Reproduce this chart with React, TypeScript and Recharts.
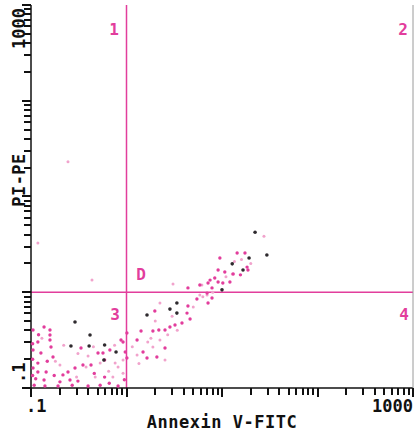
import React from 'react';
import { ScatterChart, Scatter, XAxis, YAxis, ReferenceLine } from 'recharts';

const MAGENTA = '#e23d9c';
const FAINT = '#f1a3cc';
const DARK = '#2e2a2e';
const FONT = '"DejaVu Sans Mono", "Liberation Mono", monospace';

const xTicks = [0.1, 0.2, 0.3, 0.4, 0.5, 0.6, 0.7, 0.8, 0.9, 1, 2, 3, 4, 5, 6, 7, 8, 9, 10, 20, 30, 40, 50, 60, 70, 80, 90, 100, 200, 300, 400, 500, 600, 700, 800, 900, 1000];
const yTicks = [0.1, 0.2, 0.3, 0.4, 0.5, 0.6, 0.7, 0.8, 0.9, 1, 2, 3, 4, 5, 6, 7, 8, 9, 10, 20, 30, 40, 50, 60, 70, 80, 90, 100, 200, 300, 400, 500, 600, 700, 800, 900, 1000];
const majorTicks = [0.1, 1, 10, 100, 1000];
const tickLabels: Record<string, string> = { '0.1': '.1', '1000': '1000' };
const AXIS_MIN = 0.1;

const pinkPoints: [number, number][] = [
  [0.137, 0.434], [0.158, 0.403], [0.158, 0.358], [0.158, 0.317], [0.118, 0.302], [0.162, 0.268],
  [0.127, 0.232], [0.17, 0.211], [0.118, 0.182], [0.144, 0.147], [0.118, 0.147], [0.137, 0.121],
  [0.201, 0.116], [0.216, 0.137], [0.244, 0.147], [0.334, 0.262], [0.35, 0.174], [0.425, 0.174],
  [0.503, 0.232], [0.567, 0.232], [0.59, 0.196], [0.67, 0.249], [0.876, 0.317], [0.59, 0.13],
  [0.105, 0.403], [0.105, 0.249], [0.105, 0.162], [0.108, 0.107], [0.14, 0.105], [0.192, 0.105],
  [0.27, 0.107], [0.396, 0.105], [0.53, 0.107], [0.816, 0.105], [0.289, 0.162], [0.256, 0.121],
  [1.01, 0.376], [0.92, 0.302], [1.29, 0.317], [1.42, 0.394], [1.89, 0.394], [2.18, 0.403],
  [2.53, 0.403], [2.53, 0.262], [2.85, 0.434], [3.22, 0.455], [3.81, 0.477], [4.3, 0.606],
  [4.63, 0.525], [4.4, 0.719], [1.98, 0.636], [1.49, 0.238], [0.97, 0.238], [1.01, 0.206],
  [2.08, 0.211], [1.64, 0.206], [4.4, 1.11], [5.46, 0.85], [5.86, 1.19], [7.14, 0.772],
  [7.14, 1.25], [7.86, 1.11], [7.86, 0.87], [6.98, 0.98], [7.5, 1.34], [8.4, 1.41],
  [9.1, 1.28], [10.2, 1.25], [12.1, 1.28], [9.1, 1.71], [10.7, 1.63], [9.5, 2.28],
  [13.1, 1.55], [15.6, 1.52], [14.4, 2.57], [17.4, 2.57], [18.3, 1.83], [18.7, 1.71],
  [0.12, 0.36], [0.148, 0.19], [0.112, 0.125], [0.175, 0.135], [0.31, 0.118], [0.46, 0.142],
  [0.66, 0.112], [0.95, 0.122], [0.104, 0.2], [0.104, 0.29], [0.104, 0.135],
];

const faintPoints: [number, number][] = [
  [0.31, 0.229], [0.377, 0.166], [0.53, 0.182], [0.76, 0.182], [0.816, 0.166], [0.92, 0.196],
  [0.72, 0.13], [0.47, 0.13], [0.92, 0.143], [0.396, 0.216], [0.201, 0.174], [1.67, 0.302],
  [1.89, 0.268], [2.24, 0.317], [2.53, 0.196], [1.29, 0.221], [2.24, 0.772], [3.07, 1.22],
  [5.86, 0.936], [6.16, 1.19], [6.98, 0.936], [12.8, 1.55], [0.435, 1.34], [0.118, 3.26],
  [0.244, 23], [27.5, 3.85], [0.13, 0.33], [0.22, 0.28], [0.18, 0.19], [0.3, 0.13],
  [0.45, 0.27], [0.65, 0.15], [0.75, 0.28], [1.15, 0.27], [1.35, 0.18], [1.8, 0.33],
  [2.0, 0.5], [2.7, 0.36], [3.4, 0.4], [3.0, 0.56], [5.0, 0.7], [6.3, 0.9],
  [8.0, 1.0], [11.0, 1.45], [13.5, 2.1], [16, 2.2], [20, 2.0],
];

const blackPoints: [number, number][] = [
  [0.289, 0.489], [0.415, 0.358], [0.262, 0.275], [0.406, 0.275], [0.59, 0.281], [0.777, 0.238],
  [0.58, 0.196], [3.37, 0.772], [3.37, 0.606], [2.85, 0.667], [1.64, 0.579], [22.2, 4.24],
  [29.5, 2.45], [19.2, 2.28], [12.8, 1.98], [16.6, 1.71], [10.0, 1.06],
];

const toObj = (arr: [number, number][]) => arr.map(([x, y]) => ({ x, y }));
const xTickData = xTicks.map((v) => ({ x: v, y: AXIS_MIN, v }));
const yTickData = yTicks.map((v) => ({ x: AXIS_MIN, y: v, v }));

const XTickShape = (p: any) => {
  const x = Math.round(Number(p.cx));
  const bottom = Math.round(Number(p.cy));
  const v = p.payload.v;
  const len = majorTicks.includes(v) ? 9 : 7;
  const label = tickLabels[String(v)];
  return (
    <g>
      <path d={`M${x},${bottom}V${bottom + len}`} stroke="#111" strokeWidth={2} fill="none" shapeRendering="crispEdges" />
      {label && (
        <text
          x={v === 0.1 ? x - 5 : x}
          y={bottom + 24}
          textAnchor={v === 0.1 ? 'start' : 'end'}
          fontFamily={FONT}
          fontWeight="bold"
          fontSize={17}
          fill="#111"
        >
          {label}
        </text>
      )}
    </g>
  );
};

const YTickShape = (p: any) => {
  const left = Math.round(Number(p.cx));
  const y = Math.round(Number(p.cy));
  const v = p.payload.v;
  const len = majorTicks.includes(v) ? 9 : 7;
  const label = tickLabels[String(v)];
  const lx = left - 6;
  const ly = v === 0.1 ? y - 5 : y + 3;
  return (
    <g>
      <path d={`M${left},${y}H${left - len}`} stroke="#111" strokeWidth={2} fill="none" shapeRendering="crispEdges" />
      {label && (
        <text
          x={lx}
          y={ly}
          textAnchor={v === 0.1 ? 'start' : 'end'}
          transform={`rotate(-90, ${lx}, ${ly})`}
          fontFamily={FONT}
          fontWeight="bold"
          fontSize={17}
          fill="#111"
        >
          {label}
        </text>
      )}
    </g>
  );
};

const dot = (color: string, r: number) => (p: any) => (
  <circle cx={p.cx} cy={p.cy} r={r} fill={color} />
);

const quadLabel = { fontFamily: FONT, fontWeight: 'bold' as const, fontSize: 16, fill: MAGENTA };

export default function App() {
  return (
    <div style={{ position: 'absolute', left: 0, top: 0, width: 415, height: 441, background: '#fff' }}>
      <ScatterChart width={415} height={441} margin={{ top: 5, right: 0, left: 0, bottom: 0 }}>
        <XAxis
          xAxisId={0}
          type="number"
          dataKey="x"
          scale="log"
          domain={[0.1, 1000]}
          height={53}
          tick={false}
          tickLine={false}
          axisLine={{ stroke: '#111', strokeWidth: 1.5 }}
        />
        <XAxis
          xAxisId="top"
          orientation="top"
          type="number"
          dataKey="x"
          scale="log"
          domain={[0.1, 1000]}
          height={0}
          tick={false}
          tickLine={false}
          axisLine={{ stroke: '#111', strokeWidth: 1.5 }}
        />
        <YAxis
          yAxisId={0}
          type="number"
          dataKey="y"
          scale="log"
          domain={[0.1, 1000]}
          width={31}
          tick={false}
          tickLine={false}
          axisLine={{ stroke: '#111', strokeWidth: 1.5 }}
        />
        <YAxis
          yAxisId="right"
          orientation="right"
          type="number"
          dataKey="y"
          scale="log"
          domain={[0.1, 1000]}
          width={2}
          tick={false}
          tickLine={false}
          axisLine={{ stroke: '#9a9a9a', strokeWidth: 1 }}
        />
        <ReferenceLine x={1} xAxisId={0} yAxisId={0} stroke={MAGENTA} strokeWidth={1.5} />
        <ReferenceLine y={1} xAxisId={0} yAxisId={0} stroke={MAGENTA} strokeWidth={1.5} />
        <Scatter data={xTickData} xAxisId={0} yAxisId={0} shape={XTickShape} isAnimationActive={false} />
        <Scatter data={yTickData} xAxisId={0} yAxisId={0} shape={YTickShape} isAnimationActive={false} />
        <Scatter data={toObj(faintPoints)} xAxisId={0} yAxisId={0} shape={dot(FAINT, 1.5)} isAnimationActive={false} />
        <Scatter data={toObj(pinkPoints)} xAxisId={0} yAxisId={0} shape={dot(MAGENTA, 1.7)} isAnimationActive={false} />
        <Scatter data={toObj(blackPoints)} xAxisId={0} yAxisId={0} shape={dot(DARK, 1.8)} isAnimationActive={false} />
      </ScatterChart>
      <svg width={415} height={441} style={{ position: 'absolute', left: 0, top: 0, pointerEvents: 'none' }}>
        <text x={114} y={35} textAnchor="middle" {...quadLabel}>1</text>
        <text x={403} y={35} textAnchor="middle" {...quadLabel}>2</text>
        <text x={115} y={320} textAnchor="middle" {...quadLabel}>3</text>
        <text x={404} y={320} textAnchor="middle" {...quadLabel}>4</text>
        <text x={141} y={280} textAnchor="middle" {...quadLabel}>D</text>
        <text x={222} y={428} textAnchor="middle" fontFamily={FONT} fontWeight="bold" fontSize={17} letterSpacing={0.5} fill="#111">
          Annexin V-FITC
        </text>
        <text x={25} y={180} textAnchor="middle" transform="rotate(-90, 25, 180)" fontFamily={FONT} fontWeight="bold" fontSize={17} letterSpacing={0.5} fill="#111">
          PI-PE
        </text>
      </svg>
    </div>
  );
}
